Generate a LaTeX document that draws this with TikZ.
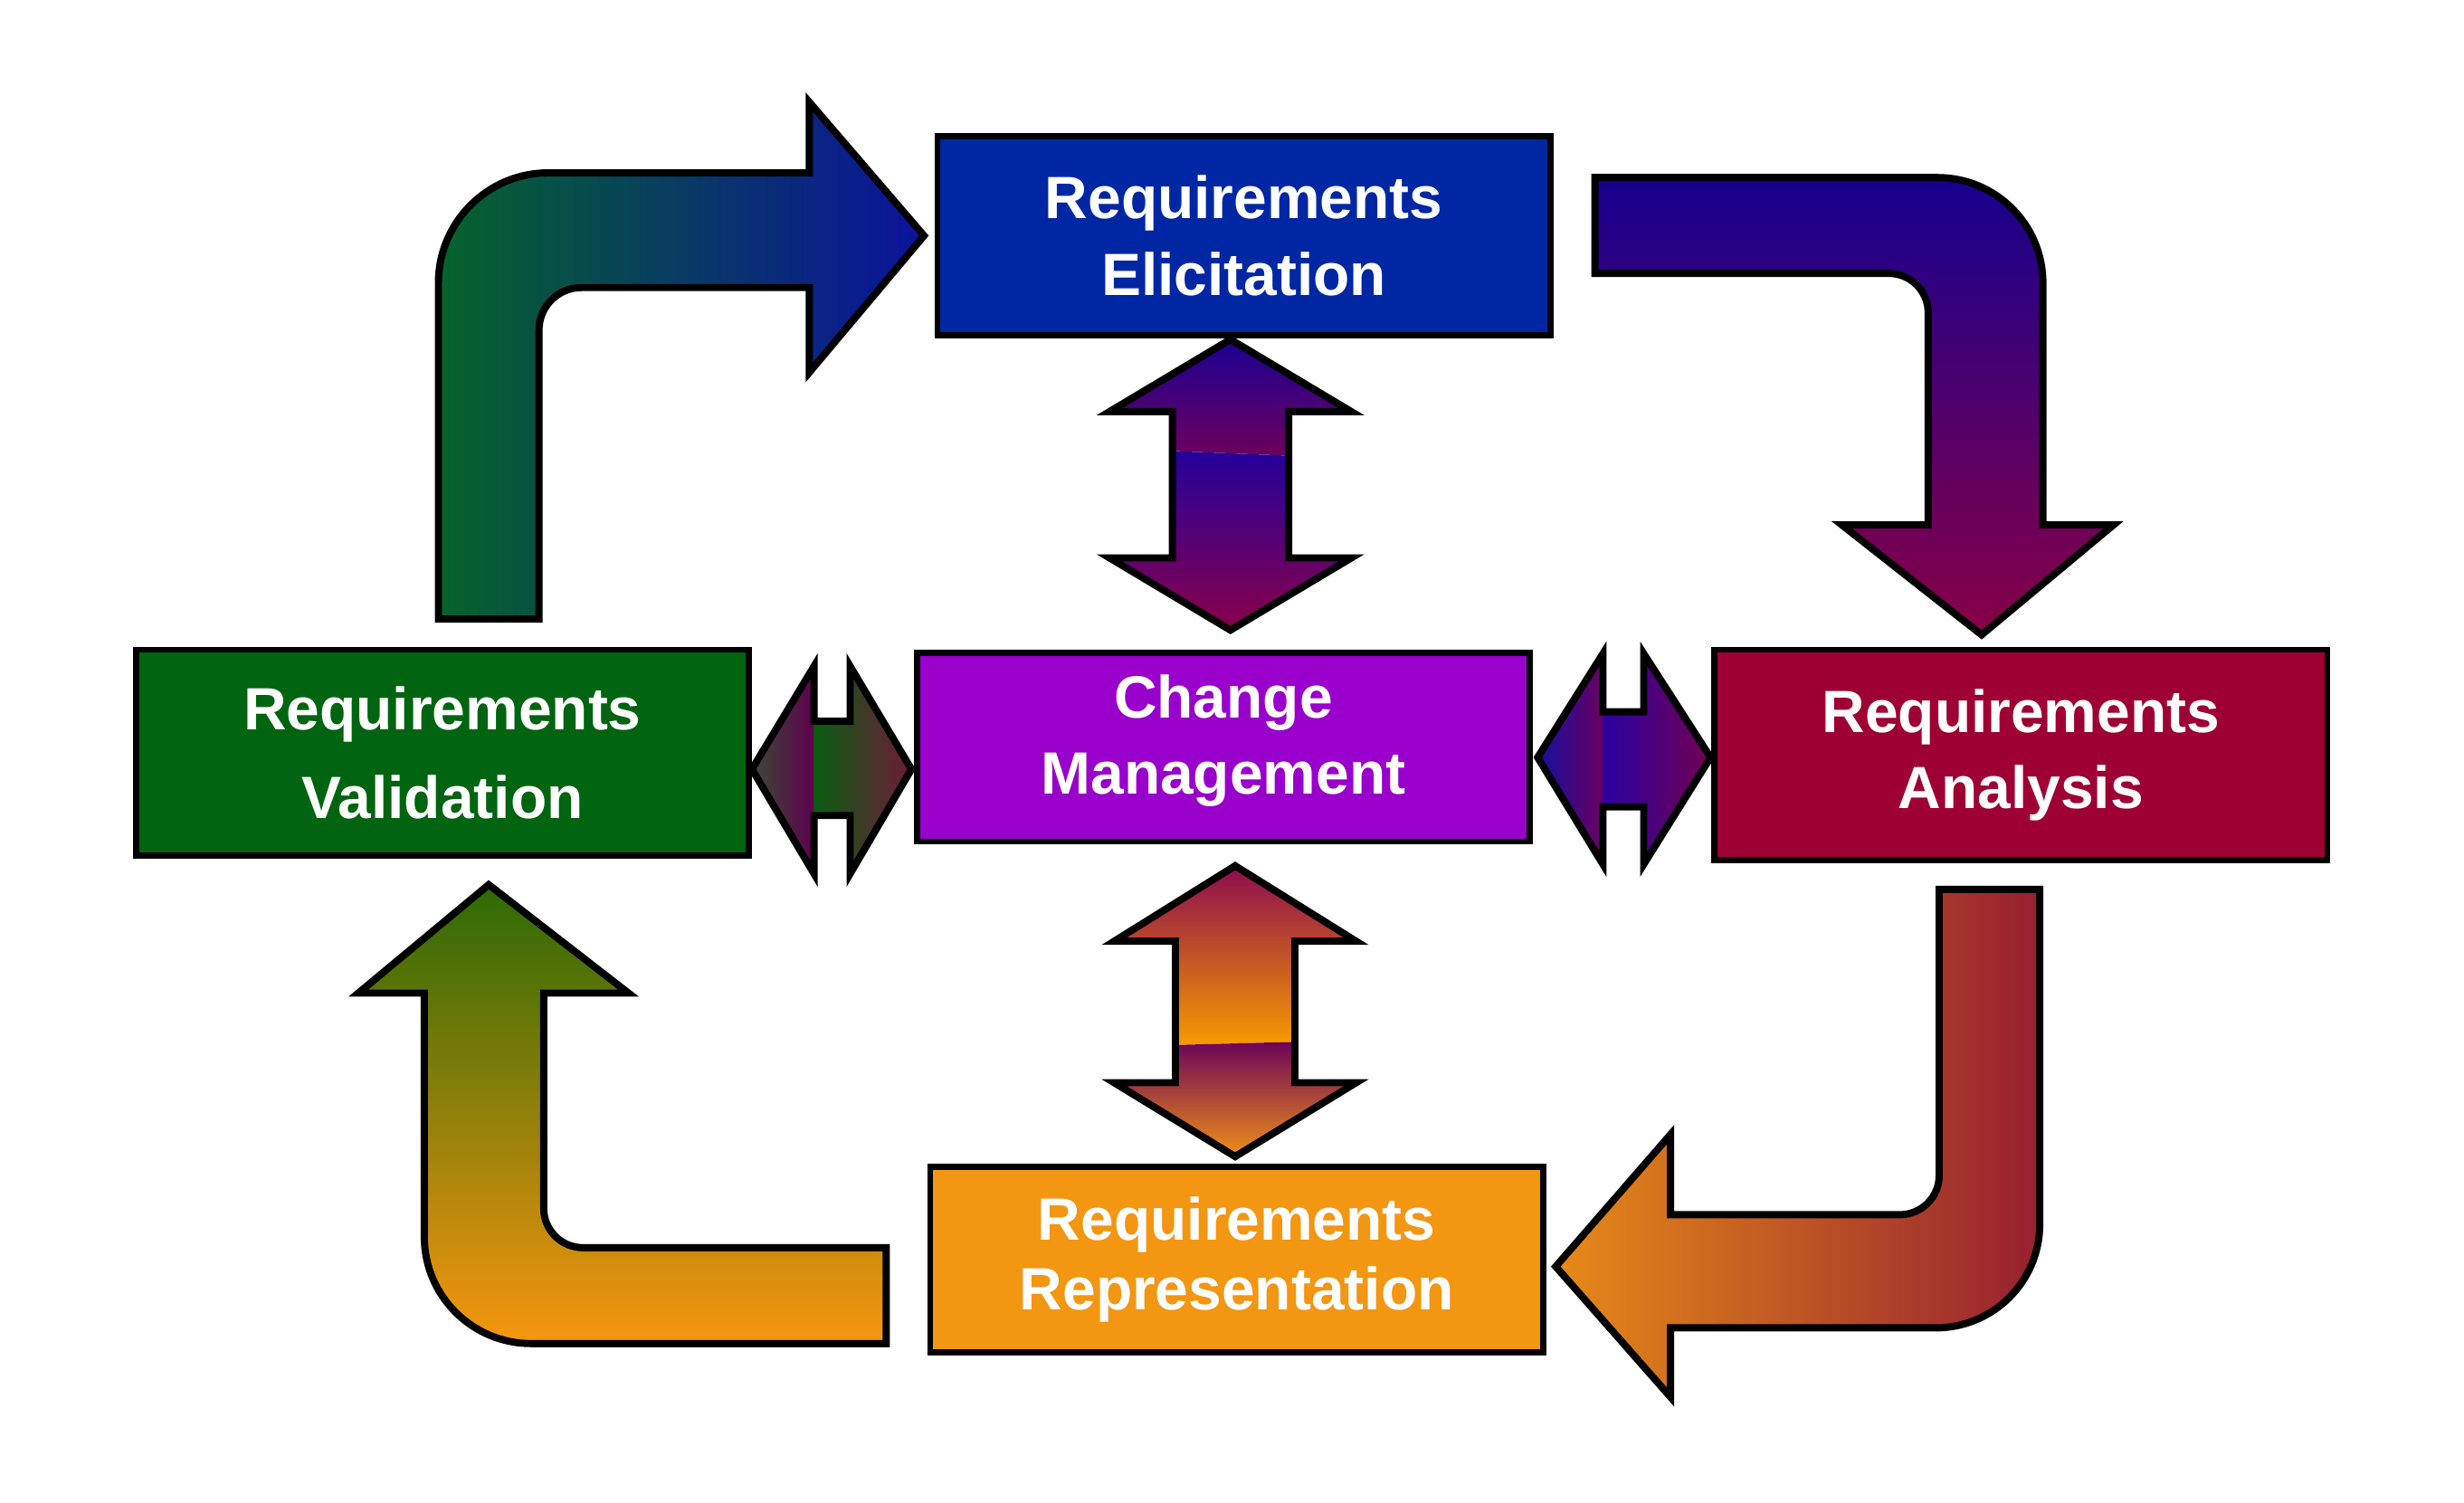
\documentclass[tikz,border=0pt]{standalone}
\usepackage{fontspec}
\setmainfont{Liberation Sans}
\usepackage{tikz}

\definecolor{elic}{HTML}{0027A3}
\definecolor{valid}{HTML}{006410}
\definecolor{chg}{HTML}{9900CC}
\definecolor{anal}{HTML}{9E0033}
\definecolor{repr}{HTML}{F39612}

\definecolor{tlL}{HTML}{05632A}
\definecolor{tlR}{HTML}{0B129C}
\definecolor{trT}{HTML}{16008F}
\definecolor{trB}{HTML}{880046}
\definecolor{brL}{HTML}{E68A18}
\definecolor{brR}{HTML}{962030}
\definecolor{blT}{HTML}{2C6A05}
\definecolor{blB}{HTML}{F7960F}

\definecolor{upA}{HTML}{1C0092}
\definecolor{upB}{HTML}{6C005C}
\definecolor{upC}{HTML}{24009C}
\definecolor{upD}{HTML}{8A004A}
\definecolor{dnA}{HTML}{8C0C4E}
\definecolor{dnB}{HTML}{F89A00}
\definecolor{dnC}{HTML}{6C0458}
\definecolor{dnD}{HTML}{EF9018}
\definecolor{ltA}{HTML}{3A4A36}
\definecolor{ltB}{HTML}{5E004E}
\definecolor{ltC}{HTML}{0A5C10}
\definecolor{ltD}{HTML}{6E1A3A}
\definecolor{rtA}{HTML}{1410A0}
\definecolor{rtB}{HTML}{6A0060}
\definecolor{rtC}{HTML}{2A00A0}
\definecolor{rtD}{HTML}{720050}

\begin{document}
\begin{tikzpicture}[
  box/.style={draw=black, line width=1.1pt, minimum width=3.9cm, inner sep=0pt,
    text=white, align=center, font=\bfseries\fontsize{10.8}{13.8}\selectfont},
  blk/.style={draw=black, line width=1.3pt, line join=miter}]

\fill[white] (0,0) rectangle (15.68,9.56);
\useasboundingbox (0,0) rectangle (15.68,9.56);

% bent arrows round the cycle
\shadedraw[blk, left color=tlL, right color=tlR] (2.79,5.62) -- (2.79,7.76)
  arc[start angle=180, end angle=90, radius=0.7] -- (5.15,8.46) -- (5.15,8.91)
  -- (5.88,8.06) -- (5.15,7.19) -- (5.15,7.73) -- (3.70,7.73)
  arc[start angle=90, end angle=180, radius=0.27] -- (3.43,5.62) -- cycle;

\shadedraw[blk, top color=trT, bottom color=trB] (10.15,8.43) -- (12.33,8.43)
  arc[start angle=90, end angle=0, radius=0.67] -- (13.00,6.22) -- (13.45,6.22)
  -- (12.61,5.52) -- (11.72,6.22) -- (12.27,6.22) -- (12.27,7.57)
  arc[start angle=0, end angle=90, radius=0.25] -- (10.15,7.82) -- cycle;

\shadedraw[blk, left color=brL, right color=brR] (12.34,3.90) -- (12.98,3.90) -- (12.98,1.77)
  arc[start angle=0, end angle=-90, radius=0.66] -- (10.63,1.11) -- (10.63,0.67)
  -- (9.90,1.50) -- (10.63,2.34) -- (10.63,1.83) -- (12.09,1.83)
  arc[start angle=-90, end angle=0, radius=0.25] -- cycle;

\shadedraw[blk, top color=blT, bottom color=blB] (5.64,1.62) -- (5.64,1.01) -- (3.38,1.01)
  arc[start angle=270, end angle=180, radius=0.68] -- (2.70,3.24) -- (2.28,3.24)
  -- (3.11,3.93) -- (4.00,3.24) -- (3.46,3.24) -- (3.46,1.87)
  arc[start angle=180, end angle=270, radius=0.25] -- cycle;

% double arrows to change management, each in two shaded parts
\shade[top color=upA, bottom color=upB] (7.83,7.40) -- (8.60,6.94) -- (8.20,6.94) -- (8.20,6.66)
  -- (7.46,6.69) -- (7.46,6.94) -- (7.06,6.94) -- cycle;
\shade[top color=upC, bottom color=upD] (7.46,6.69) -- (8.20,6.66) -- (8.20,6.01) -- (8.60,6.01)
  -- (7.83,5.55) -- (7.06,6.01) -- (7.46,6.01) -- cycle;
\draw[blk] (7.83,7.40) -- (8.60,6.94) -- (8.20,6.94) -- (8.20,6.01) -- (8.60,6.01) -- (7.83,5.55)
  -- (7.06,6.01) -- (7.46,6.01) -- (7.46,6.94) -- (7.06,6.94) -- cycle;

\shade[top color=dnA, bottom color=dnB] (7.86,4.05) -- (8.63,3.57) -- (8.24,3.57) -- (8.24,2.93)
  -- (7.48,2.91) -- (7.48,3.57) -- (7.09,3.57) -- cycle;
\shade[top color=dnC, bottom color=dnD] (7.48,2.91) -- (8.24,2.93) -- (8.24,2.67) -- (8.63,2.67)
  -- (7.86,2.20) -- (7.09,2.67) -- (7.48,2.67) -- cycle;
\draw[blk] (7.86,4.05) -- (8.63,3.57) -- (8.24,3.57) -- (8.24,2.67) -- (8.63,2.67) -- (7.86,2.20)
  -- (7.09,2.67) -- (7.48,2.67) -- (7.48,3.57) -- (7.09,3.57) -- cycle;

\shade[left color=ltA, right color=ltB] (4.785,4.665) -- (5.18,5.32) -- (5.18,4.00) -- cycle;
\shade[left color=ltC, right color=ltD] (5.18,4.97) -- (5.41,4.97) -- (5.41,5.32) -- (5.80,4.665)
  -- (5.41,4.00) -- (5.41,4.37) -- (5.18,4.37) -- cycle;
\draw[blk] (4.785,4.665) -- (5.18,5.32) -- (5.18,4.97) -- (5.41,4.97) -- (5.41,5.32) -- (5.80,4.665)
  -- (5.41,4.00) -- (5.41,4.37) -- (5.18,4.37) -- (5.18,4.00) -- cycle;

\shade[left color=rtA, right color=rtB] (9.785,4.74) -- (10.20,5.40) -- (10.20,4.06) -- cycle;
\shade[left color=rtC, right color=rtD] (10.20,5.03) -- (10.46,5.03) -- (10.46,5.40) -- (10.885,4.74)
  -- (10.46,4.06) -- (10.46,4.425) -- (10.20,4.425) -- cycle;
\draw[blk] (9.785,4.74) -- (10.20,5.40) -- (10.20,5.03) -- (10.46,5.03) -- (10.46,5.40) -- (10.885,4.74)
  -- (10.46,4.06) -- (10.46,4.425) -- (10.20,4.425) -- (10.20,4.06) -- cycle;

% the five phases
\node[box, fill=elic, minimum height=1.27cm] (elic) at (7.915,8.06) {Requirements\\Elicitation};
\node[box, fill=valid, minimum height=1.31cm] (valid) at (2.815,4.77) {Requirements\\[2.3pt]Validation};
\node[box, fill=chg, minimum height=1.20cm] (chg) at (7.785,4.805) {Change\\Management\rule[-1.6mm]{0pt}{0pt}};
\node[box, fill=anal, minimum height=1.34cm] (anal) at (12.86,4.755) {Requirements\\Analysis};
\node[box, fill=repr, minimum height=1.18cm] (repr) at (7.87,1.545) {Requirements\\[-1.2pt]Representation};

\end{tikzpicture}
\end{document}
